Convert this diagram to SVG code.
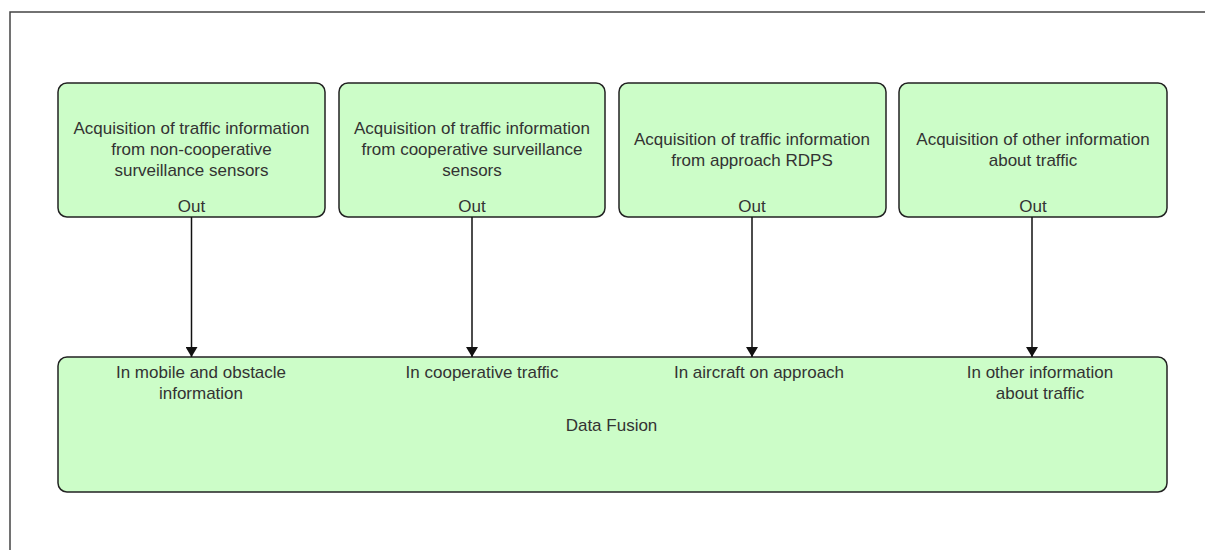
<svg xmlns="http://www.w3.org/2000/svg" width="1205" height="550" viewBox="0 0 1205 550">
<style>
.box{fill:#ccfdc8;stroke:#222;stroke-width:1.5}
.t{font-family:"Liberation Sans",Arial,sans-serif;font-size:17px;fill:#333;text-anchor:middle}
.c{stroke:#111;stroke-width:1.5;fill:none}
</style>
<defs>
<marker id="arr" viewBox="0 0 10 12" refX="10" refY="6" markerWidth="10" markerHeight="12" markerUnits="userSpaceOnUse" orient="auto">
<path d="M0,0 L10,6 L0,12 Z" fill="#111"/>
</marker>
</defs>
<rect x="0" y="0" width="1205" height="550" fill="#fff"/>
<path d="M10,560 L10,12 L1215,12" fill="none" stroke="#444" stroke-width="1.5"/>
<g id="node1">
<rect class="box" x="58" y="83" width="267" height="134" rx="9"/>
<text class="t" x="191.5" y="134">Acquisition of traffic information</text>
<text class="t" x="191.5" y="155">from non-cooperative</text>
<text class="t" x="191.5" y="176">surveillance sensors</text>
<text class="t" x="191.5" y="212">Out</text>
</g>
<g id="node2">
<rect class="box" x="339" y="83" width="266" height="134" rx="9"/>
<text class="t" x="472" y="134">Acquisition of traffic information</text>
<text class="t" x="472" y="155">from cooperative surveillance</text>
<text class="t" x="472" y="176">sensors</text>
<text class="t" x="472" y="212">Out</text>
</g>
<g id="node3">
<rect class="box" x="619" y="83" width="267" height="134" rx="9"/>
<text class="t" x="752" y="145">Acquisition of traffic information</text>
<text class="t" x="752" y="166">from approach RDPS</text>
<text class="t" x="752" y="212">Out</text>
</g>
<g id="node4">
<rect class="box" x="899" y="83" width="268" height="134" rx="9"/>
<text class="t" x="1033" y="145">Acquisition of other information</text>
<text class="t" x="1033" y="166">about traffic</text>
<text class="t" x="1033" y="212">Out</text>
</g>
<g id="node5">
<rect class="box" x="58" y="357" width="1109" height="135" rx="9"/>
<text class="t" x="201" y="378">In mobile and obstacle</text>
<text class="t" x="201" y="399">information</text>
<text class="t" x="482" y="378">In cooperative traffic</text>
<text class="t" x="759" y="378">In aircraft on approach</text>
<text class="t" x="1040" y="378">In other information</text>
<text class="t" x="1040" y="399">about traffic</text>
<text class="t" x="611.5" y="431">Data Fusion</text>
</g>
<g id="connectors">
<line class="c" x1="191.5" y1="217" x2="191.5" y2="357" marker-end="url(#arr)"/>
<line class="c" x1="472" y1="217" x2="472" y2="357" marker-end="url(#arr)"/>
<line class="c" x1="752" y1="217" x2="752" y2="357" marker-end="url(#arr)"/>
<line class="c" x1="1032" y1="217" x2="1032" y2="357" marker-end="url(#arr)"/>
</g>
</svg>
